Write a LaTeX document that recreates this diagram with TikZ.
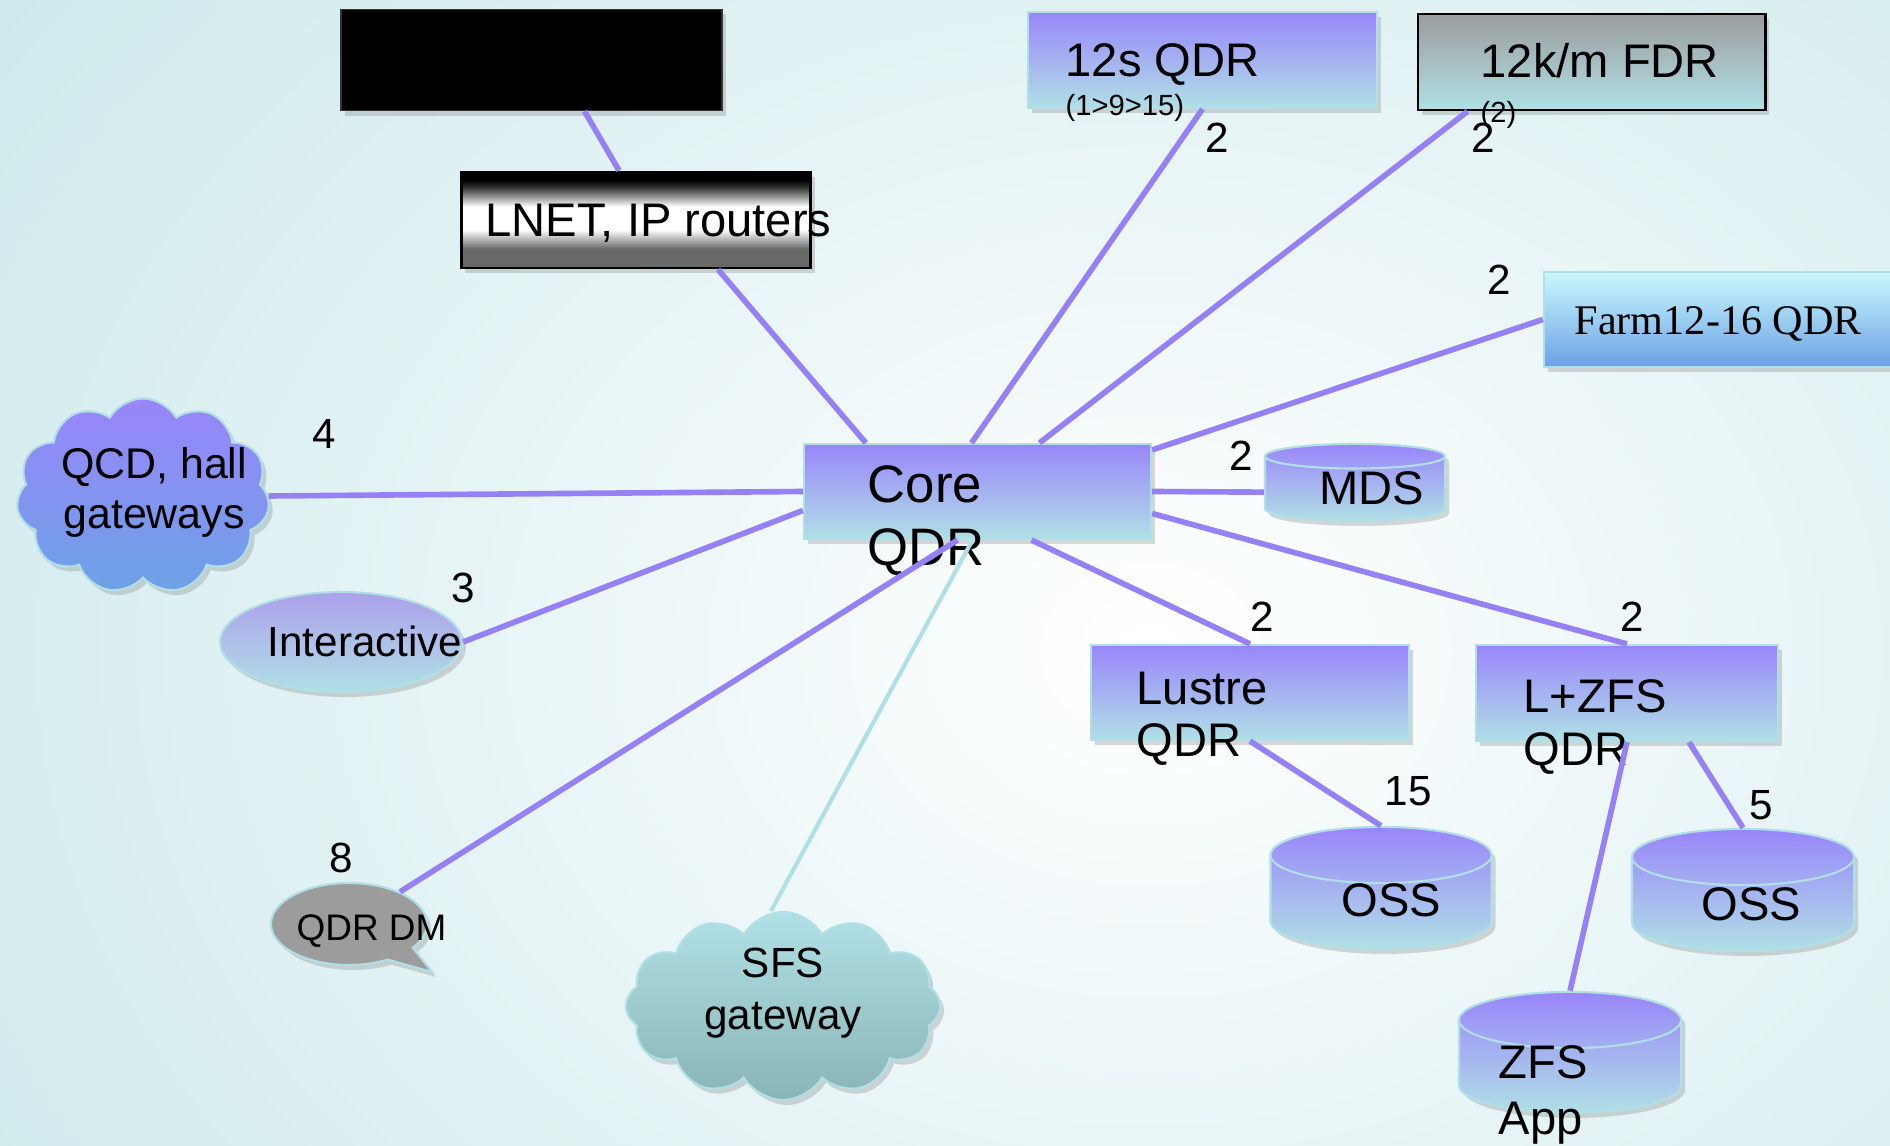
\documentclass[tikz,border=0pt]{standalone}
\usepackage{fontspec}
\setmainfont{Liberation Sans}
\newfontfamily\farmfont{Liberation Serif}
\usetikzlibrary{calc,shapes.geometric,shapes.symbols,shapes.callouts,shadows}

\definecolor{qpurple}{RGB}{153,133,250}
\definecolor{qcyan}{RGB}{176,224,230}
\definecolor{qline}{RGB}{150,128,246}
\definecolor{qblue}{RGB}{108,162,230}
\definecolor{qpale}{RGB}{202,248,252}
\definecolor{qlav}{RGB}{172,160,234}
\definecolor{qteal}{RGB}{138,180,182}
\definecolor{qgray}{RGB}{156,156,156}
\definecolor{qbg}{RGB}{206,233,236}
\definecolor{metalD}{RGB}{104,104,104}
\definecolor{metalK}{RGB}{50,50,50}
\pgfdeclareverticalshading{metal}{100bp}{color(0bp)=(metalD); color(25bp)=(metalD); color(35bp)=(metalD); color(45bp)=(white); color(57bp)=(white); color(67bp)=(metalK); color(71bp)=(black); color(100bp)=(black)}

\begin{document}
\begin{tikzpicture}[x=0.01cm,y=-0.01cm,
  shade/.style={drop shadow={opacity=0.3,shadow xshift=0.04cm,shadow yshift=-0.05cm}},
  qbox/.style={rectangle,draw=qcyan,line width=0.6pt,top color=qpurple,bottom color=qcyan,shade},
  drum/.style={cylinder,shape border rotate=90,anchor=south,draw=qcyan,line width=0.6pt,top color=qpurple,bottom color=qcyan,shade},
  txt/.style={inner sep=0pt,font=\fontsize{13.4}{15}\selectfont},
  num/.style={inner sep=0pt,anchor=base west,font=\fontsize{12}{14}\selectfont},
  tiny/.style={inner sep=0pt,anchor=base west,font=\fontsize{8.3}{10}\selectfont},
  link/.style={draw=qline,line width=1.6pt}]
  \useasboundingbox (0,0) rectangle (1890,1146);
  \fill[inner color=white,outer color=qbg] (-250,-450) rectangle (2550,1750);

  \node[rectangle,fill=black,draw=black!80,minimum width=3.81cm,minimum height=1.01cm,shade] (blk) at (531.5,60) {};
  \node[rectangle,shading=metal,draw=black,line width=0.8pt,minimum width=3.49cm,minimum height=0.96cm,shade] (lnet) at (636,220) {};
  \node[qbox,minimum width=3.49cm,minimum height=0.96cm] (twelves) at (1202.5,60) {};
  \node[rectangle,top color=qgray,bottom color=qcyan,draw=black,line width=0.8pt,minimum width=3.47cm,minimum height=0.96cm,shade] (fdr) at (1591.5,62) {};
  \node[rectangle,top color=qpale,bottom color=qblue,draw=qcyan,line width=0.6pt,minimum width=3.56cm,minimum height=0.95cm,shade] (farm) at (1722,319.5) {};
  \node[qbox,minimum width=3.47cm,minimum height=0.95cm] (core) at (977.5,491.5) {};
  \node[drum,aspect=1.05,minimum width=1.80cm,minimum height=0.77cm] (mds) at (1355,522) {};
  \node[qbox,minimum width=3.18cm,minimum height=0.95cm] (lustre) at (1250,692.5) {};
  \node[qbox,minimum width=3.02cm,minimum height=0.96cm] (lzfs) at (1627,693) {};
  \node[drum,aspect=2.4,minimum width=2.21cm,minimum height=1.22cm] (oss1) at (1381,950) {};
  \node[drum,aspect=2.4,minimum width=2.22cm,minimum height=1.22cm] (oss2) at (1743,952) {};
  \node[drum,aspect=2.4,minimum width=2.22cm,minimum height=1.21cm] (zfsapp) at (1570,1114) {};
  \node[cloud,cloud puffs=11,cloud puff arc=120,aspect=1.3,top color=qpurple,bottom color=qblue,draw=qcyan,line width=0.6pt,minimum width=2.53cm,minimum height=1.95cm,shade] (qcd) at (143,496) {};
  \node[ellipse,top color=qlav,bottom color=qcyan,draw=qcyan,line width=0.6pt,minimum width=2.42cm,minimum height=1.0cm,shade] (inter) at (341,642) {};
  \node[ellipse callout,callout absolute pointer={(432,972)},callout pointer arc=25,fill=qgray,draw=qcyan,line width=0.6pt,minimum width=1.56cm,minimum height=0.82cm,shade] (qdrdm) at (349,924) {};
  \node[cloud,cloud puffs=12,cloud puff arc=120,aspect=1.6,top color=qcyan,bottom color=qteal,draw=qcyan,line width=0.6pt,minimum width=3.14cm,minimum height=1.88cm,shade] (sfs) at (783,1006) {};

  \node[txt,anchor=base west] (lnetT) at (485,237) {LNET, IP routers};
  \node[txt,anchor=base west] (twelvesT) at (1065,77) {12s QDR};
  \node[tiny] (twelvesN) at (1065,116) {(1>9>15)};
  \node[txt,anchor=base west] (fdrT) at (1480,78) {12k/m FDR};
  \node[tiny] (fdrN) at (1480,123) {(2)};
  \node[txt,anchor=base west,font=\farmfont\fontsize{12}{14}\selectfont] (farmT) at (1574,335) {Farm12-16 QDR};
  \node[txt,anchor=north west,align=left,font=\fontsize{15}{18}\selectfont] (coreT) at (867,465) {Core\\QDR};
  \node[txt,anchor=base west] (mdsT) at (1319,505) {MDS};
  \node[txt,anchor=north west,align=left] (lustreT) at (1136,671) {Lustre\\QDR};
  \node[txt,anchor=north west,align=left] (lzfsT) at (1523,679) {L+ZFS\\QDR};
  \node[txt,anchor=base west] (oss1T) at (1341,916) {OSS};
  \node[txt,anchor=base west] (oss2T) at (1701,920) {OSS};
  \node[txt,anchor=north west,align=left,font=\fontsize{13.4}{16}\selectfont] (zfsT) at (1498,1045) {ZFS\\App};
  \node[txt,align=center,font=\fontsize{12.2}{14.2}\selectfont] (qcdT) at (154,492) {QCD, hall\\gateways};
  \node[txt,anchor=base west,font=\fontsize{12}{14}\selectfont] (interT) at (267,657) {Interactive};
  \node[txt,anchor=base west,font=\fontsize{10.5}{12}\selectfont] (qdrT) at (296,940) {QDR DM};
  \node[txt,align=center,font=\fontsize{12}{14.8}\selectfont] (sfsT) at (783,993) {SFS\\gateway};

  \node[num] (n12s) at (1205,153) {2};
  \node[num] (nfdr) at (1471,153) {2};
  \node[num] (nfarm) at (1487,295) {2};
  \node[num] (n4) at (312,449) {4};
  \node[num] (nmds) at (1229,471) {2};
  \node[num] (n3) at (451,603) {3};
  \node[num] (nlus) at (1250,632) {2};
  \node[num] (nlzfs) at (1620,632) {2};
  \node[num] (n15) at (1384,805) {15};
  \node[num] (n5) at (1749,819) {5};
  \node[num] (n8) at (329,873) {8};

  \draw[link] ($(blk.south)+(53,0)$) -- ($(lnet.north)+(-17,0)$);
  \draw[link] ($(lnet.south)+(82,0)$) -- ($(core.north west)+(63,0)$);
  \draw[link] (twelves.south) -- ($(core.north)+(-6,0)$);
  \draw[link] ($(fdr.south)+(-124,0)$) -- ($(core.north)+(62,0)$);
  \draw[link] (farm.west) -- ($(core.north east)+(0,7)$);
  \draw[link] (mds.west) -- (core.east);
  \draw[link] (lzfs.north) -- ($(core.east)+(0,22)$);
  \draw[link] (lustre.north) -- ($(core.south)+(54,0)$);
  \draw[link] (lustre.south) -- (oss1.north);
  \draw[link] ($(lzfs.south)+(62,0)$) -- (oss2.north);
  \draw[link] (lzfs.south) -- (zfsapp.north);
  \draw[link] (qcd.east) -- (core.west);
  \draw[link] (inter.east) -- ($(core.west)+(0,19)$);
  \draw[link] (qdrdm) -- ($(core.south)+(-20,0)$);
  \draw[draw=qcyan,line width=1.2pt] ($(sfs.north)+(-12,0)$) -- ($(core.south)+(-5,0)$);
\end{tikzpicture}
\end{document}
